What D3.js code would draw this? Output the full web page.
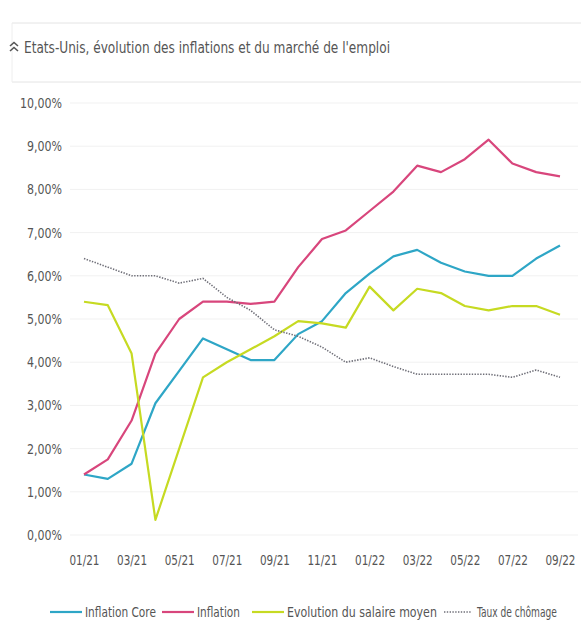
<!DOCTYPE html>
<html>
<head>
<meta charset="utf-8">
<script src="https://cdn.jsdelivr.net/npm/d3@7"></script>
<style>
  body { margin: 0; background: #fff; }
  svg { display: block; }
  text { font-family: "DejaVu Sans", sans-serif; font-stretch: condensed; fill: #555; }
</style>
</head>
<body>
<svg width="581" height="644"></svg>
<script>
// months 01/21 .. 09/22
let months = ["01/21","02/21","03/21","04/21","05/21","06/21","07/21","08/21","09/21","10/21","11/21","12/21",
              "01/22","02/22","03/22","04/22","05/22","06/22","07/22","08/22","09/22"];
let tickLabels = ["01/21","03/21","05/21","07/21","09/21","11/21","01/22","03/22","05/22","07/22","09/22"];
let yTicks = [0,1,2,3,4,5,6,7,8,9,10];

let inflationCore = [1.4,1.3,1.65,3.05,3.8,4.55,4.3,4.05,4.05,4.65,4.95,5.6,6.05,6.45,6.6,6.3,6.1,6.0,6.0,6.4,6.7];
let inflation     = [1.4,1.75,2.65,4.2,5.0,5.4,5.4,5.35,5.4,6.2,6.85,7.05,7.5,7.95,8.55,8.4,8.7,9.15,8.6,8.4,8.3];
let salaire       = [5.4,5.32,4.2,0.35,2.0,3.65,4.0,4.3,4.6,4.95,4.9,4.8,5.75,5.2,5.7,5.6,5.3,5.2,5.3,5.3,5.1];
let chomage       = [6.4,6.2,6.0,6.0,5.83,5.94,5.5,5.2,4.75,4.6,4.35,4.0,4.1,3.9,3.72,3.72,3.72,3.72,3.65,3.82,3.65];

let series = [
  {name: "Inflation Core", values: inflationCore, color: "#2ea6c6", dash: null},
  {name: "Inflation", values: inflation, color: "#d8467c", dash: null},
  {name: "Evolution du salaire moyen", values: salaire, color: "#c6da22", dash: null},
  {name: "Taux de chômage", values: chomage, color: "#6f6f78", dash: "1.4,1.4"}
];

let svg = d3.select("svg");

// squeeze text horizontally so it looks like the narrow font of the original
function squeeze(sel, ratio){
  sel.each(function(){
    let w = this.getComputedTextLength();
    d3.select(this).attr("textLength", w * ratio).attr("lengthAdjust", "spacingAndGlyphs");
  });
}

// frame lines around the title
svg.append("line").attr("x1", 12).attr("x2", 581).attr("y1", 23).attr("y2", 23).attr("stroke", "#e4e4e4");
svg.append("line").attr("x1", 12).attr("x2", 581).attr("y1", 82).attr("y2", 82).attr("stroke", "#e4e4e4");
svg.append("line").attr("x1", 12).attr("x2", 12).attr("y1", 23).attr("y2", 82).attr("stroke", "#eeeeee");

// double chevron + title
svg.append("path").attr("d", "M10,46 L14,42.5 L18,46 M10,51 L14,47.5 L18,51")
  .attr("fill", "none").attr("stroke", "#555").attr("stroke-width", 1.6);
svg.append("text").attr("x", 24).attr("y", 53).attr("font-size", 16)
  .attr("textLength", 366).attr("lengthAdjust", "spacingAndGlyphs")
  .text("Etats-Unis, évolution des inflations et du marché de l'emploi");

let x = d3.scaleLinear().domain([0, months.length - 1]).range([84, 560]);
let y = d3.scaleLinear().domain([0, 10]).range([535, 103]);

// gridlines
svg.append("g").selectAll("line").data(yTicks).enter().append("line")
  .attr("x1", 70).attr("x2", 578)
  .attr("y1", d => y(d)).attr("y2", d => y(d))
  .attr("stroke", "#f1f1f1");

let yAxis = svg.append("g").attr("transform", "translate(62,0)")
  .call(d3.axisLeft(y).tickValues(yTicks).tickSize(0).tickPadding(0)
    .tickFormat(d => d.toFixed(2).replace(".", ",") + "%"));
yAxis.select(".domain").remove();
yAxis.selectAll("text").attr("font-size", 14).style("font-family", null).attr("fill", "#555");

let xAxis = svg.append("g").attr("transform", "translate(0,555)")
  .call(d3.axisBottom(x).tickValues(tickLabels.map(t => months.indexOf(t))).tickSize(0).tickPadding(0)
    .tickFormat(i => months[i]));
xAxis.select(".domain").remove();
xAxis.selectAll("text").attr("font-size", 14).style("font-family", null).attr("fill", "#555");

// fit the y labels: "10,00%" is about 42px wide in the original
let yRef = yAxis.selectAll("text").nodes().pop().getComputedTextLength();
squeeze(yAxis.selectAll("text"), 42 / yRef);
let xRef = xAxis.selectAll("text").nodes()[0].getComputedTextLength();
squeeze(xAxis.selectAll("text"), 30 / xRef);

let line = d3.line().x((d, i) => x(i)).y(d => y(d));

series.forEach(function(s){
  svg.append("path").datum(s.values)
    .attr("d", line)
    .attr("fill", "none")
    .attr("stroke", s.color)
    .attr("stroke-width", s.dash ? 1.6 : 2.2)
    .attr("stroke-dasharray", s.dash)
    .attr("stroke-linejoin", "round");
});

// legend (texts scaled horizontally to the narrow widths of the original)
let legendPos = [50, 162, 252, 444];
let legendW = [71, 43, 150, 80];
let legend = svg.append("g");
series.forEach(function(s, i){
  let lx = legendPos[i];
  legend.append("line").attr("x1", lx).attr("x2", lx + (s.dash ? 28 : 32)).attr("y1", 612).attr("y2", 612)
    .attr("stroke", s.color).attr("stroke-width", s.dash ? 1.3 : 2.2).attr("stroke-dasharray", s.dash);
  let t = legend.append("text").attr("x", 0).attr("y", 0).attr("font-size", 14).text(s.name);
  let k = legendW[i] / t.node().getComputedTextLength();
  t.attr("transform", "translate(" + (lx + (s.dash ? 33 : 35)) + ",617) scale(" + k + ",1)");
});
</script>
</body>
</html>
